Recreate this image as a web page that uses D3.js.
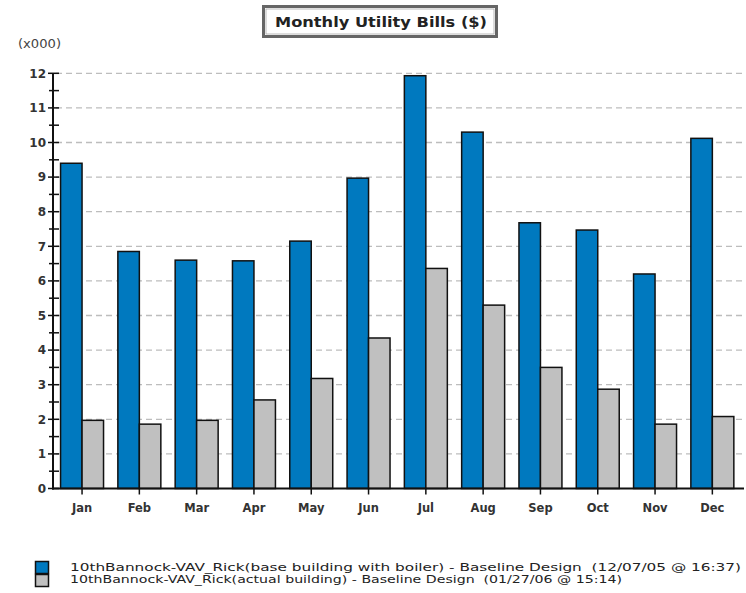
<!DOCTYPE html>
<html><head><meta charset="utf-8">
<script src="https://cdn.jsdelivr.net/npm/d3@7"></script>
<style>body{margin:0;background:#fff}svg{display:block}text{white-space:pre}</style>
</head><body>
<svg id="c" width="746" height="593"></svg>
<script>
const months = ["Jan","Feb","Mar","Apr","May","Jun","Jul","Aug","Sep","Oct","Nov","Dec"];
const baseValues = [9.4, 6.85, 6.6, 6.58, 7.15, 8.97, 11.93, 10.3, 7.68, 7.47, 6.2, 10.12];
const actualValues = [1.97, 1.86, 1.97, 2.56, 3.18, 4.35, 6.36, 5.3, 3.5, 2.87, 1.86, 2.08];
const yTicks = [0,1,2,3,4,5,6,7,8,9,10,11,12];
const seriesNames = [
  "10thBannock-VAV_Rick(base building with boiler) - Baseline Design  (12/07/05 @ 16:37)",
  "10thBannock-VAV_Rick(actual building) - Baseline Design  (01/27/06 @ 15:14)"
];
const colors = ["#0079bf", "#c0c0c0"];

const svg = d3.select("#c");
const font = "DejaVu Sans, Verdana, sans-serif";
const x = d3.scaleBand().domain(months).range([53.4, 741]).padding(0);
const y = d3.scaleLinear().domain([0, 12]).range([488.5, 73.3]);

// gridlines
svg.append("g").selectAll("line").data(yTicks.filter(d => d > 0)).join("line")
  .attr("x1", 56).attr("x2", 746)
  .attr("y1", d => y(d)).attr("y2", d => y(d))
  .attr("stroke", "#bdbdbd").attr("stroke-width", 1.3).attr("stroke-dasharray", "6,4");

const bw = x.bandwidth() * 0.375;
const cx = m => x(m) + x.bandwidth() / 2;
const bars = svg.append("g");
bars.selectAll("rect.b").data(months).join("rect").attr("class","b")
  .attr("x", (m) => cx(m) - bw).attr("width", bw)
  .attr("y", (m,i) => y(baseValues[i])).attr("height", (m,i) => y(0) - y(baseValues[i]))
  .attr("fill", colors[0]).attr("stroke", "#111").attr("stroke-width", 1.5);
bars.selectAll("rect.a").data(months).join("rect").attr("class","a")
  .attr("x", (m) => cx(m)).attr("width", bw)
  .attr("y", (m,i) => y(actualValues[i])).attr("height", (m,i) => y(0) - y(actualValues[i]))
  .attr("fill", colors[1]).attr("stroke", "#111").attr("stroke-width", 1.5);

// y axis
const yAxis = d3.axisLeft(y).tickValues(yTicks).tickSize(0).tickPadding(7).tickFormat(d3.format("d"));
const gy = svg.append("g").attr("transform", "translate(53,0)").call(yAxis);
gy.select(".domain").remove();
gy.selectAll("text").attr("font-family", font).attr("font-size", 12).attr("fill", "#333").attr("font-weight", "bold");
const allTicks = d3.range(0, 12.01, 0.5);
svg.append("g").selectAll("line").data(allTicks).join("line")
  .attr("x1", d => Number.isInteger(d) ? 48 : 49).attr("x2", 59)
  .attr("y1", d => y(d)).attr("y2", d => y(d))
  .attr("stroke", "#111").attr("stroke-width", 1.5);
svg.append("line").attr("x1", 53).attr("x2", 53).attr("y1", y(12)).attr("y2", y(0) + 1)
  .attr("stroke", "#111").attr("stroke-width", 2);

// x axis
const xAxis = d3.axisBottom(x).tickSize(6).tickPadding(9);
const gx = svg.append("g").attr("transform", `translate(0,${y(0)})`).call(xAxis);
gx.select(".domain").attr("stroke", "#111").attr("stroke-width", 2).attr("d", "M52,0H744");
gx.selectAll(".tick line").attr("stroke", "#111").attr("stroke-width", 1.5);
gx.selectAll("text").attr("font-family", font).attr("font-size", 11.5).attr("fill", "#333").attr("font-weight", "bold");

// unit label
svg.append("text").attr("x", 18).attr("y", 48).text("(x000)")
  .attr("textLength", 43).attr("lengthAdjust", "spacingAndGlyphs")
  .attr("font-family", font).attr("font-size", 11.5).attr("fill", "#444");

// title box
svg.append("rect").attr("x", 263.5).attr("y", 6.5).attr("width", 233).attr("height", 30)
  .attr("fill", "#fff").attr("stroke", "#666").attr("stroke-width", 3);
svg.append("rect").attr("x", 266).attr("y", 9).attr("width", 228).attr("height", 25)
  .attr("fill", "none").attr("stroke", "#aaa").attr("stroke-width", 0.8);
svg.append("text").attr("x", 275).attr("y", 27)
  .text("Monthly Utility Bills ($)")
  .attr("textLength", 212).attr("lengthAdjust", "spacingAndGlyphs")
  .attr("font-family", font).attr("font-size", 14).attr("font-weight", "bold").attr("fill", "#222");

// legend
const legendWidths = [671, 552];
const lg = svg.append("g");
seriesNames.forEach((name, i) => {
  lg.append("rect").attr("x", 35.5).attr("y", 561.5 + i * 13).attr("width", 13).attr("height", 12)
    .attr("fill", colors[i]).attr("stroke", "#111").attr("stroke-width", 1.5);
  lg.append("text").attr("x", 70).attr("y", 571 + i * 12).text(name)
    .attr("textLength", legendWidths[i]).attr("lengthAdjust", "spacingAndGlyphs")
    .attr("font-family", font).attr("font-size", 10.2).attr("fill", "#222");
});
</script>
</body></html>
